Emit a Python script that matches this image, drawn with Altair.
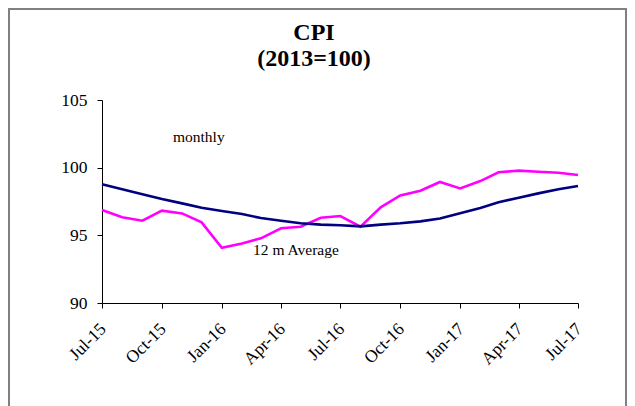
import altair as alt
import pandas as pd

months = ["2015-07-01", "2015-08-01", "2015-09-01", "2015-10-01", "2015-11-01", "2015-12-01",
          "2016-01-01", "2016-02-01", "2016-03-01", "2016-04-01", "2016-05-01", "2016-06-01",
          "2016-07-01", "2016-08-01", "2016-09-01", "2016-10-01", "2016-11-01", "2016-12-01",
          "2017-01-01", "2017-02-01", "2017-03-01", "2017-04-01", "2017-05-01", "2017-06-01",
          "2017-07-01"]
monthly = [96.87, 96.33, 96.08, 96.82, 96.62, 95.96, 94.08, 94.40, 94.78, 95.52, 95.64, 96.30,
           96.43, 95.64, 97.07, 97.95, 98.30, 98.94, 98.47, 99.01, 99.66, 99.78, 99.70, 99.63,
           99.46]
average_12m = [98.77, 98.40, 98.03, 97.68, 97.36, 97.04, 96.80, 96.57, 96.28, 96.08, 95.89, 95.79,
               95.74, 95.66, 95.79, 95.89, 96.03, 96.25, 96.63, 97.02, 97.44, 97.78, 98.10, 98.40,
               98.64]
series_names = ["monthly", "12 m Average"]
series_colors = ["#FF00FF", "#000080"]
title_lines = ["CPI", "(2013=100)"]
y_ticks = [90, 95, 100, 105]
x_ticks = ["2015-07-01", "2015-10-01", "2016-01-01", "2016-04-01", "2016-07-01",
           "2016-10-01", "2017-01-01", "2017-04-01", "2017-07-01"]
note_labels = ["monthly", "12 m Average"]
note_dates = ["2015-10-18", "2016-02-18"]
note_values = [101.9, 93.54]

FONT = "Liberation Serif, Times New Roman, Times, serif"

df = pd.DataFrame({
    "date": months * 2,
    "value": monthly + average_12m,
    "series": [series_names[0]] * len(months) + [series_names[1]] * len(months),
})
notes = pd.DataFrame({"date": note_dates, "value": note_values, "label": note_labels})

x_enc = alt.X("date:T", scale=alt.Scale(domain=[months[0], months[-1]]),
              axis=alt.Axis(values=x_ticks, format="%b-%y", labelAngle=-45, labelAlign="right",
                            labelBaseline="middle", tickSize=5, labelPadding=18, labelOffset=1,
                            title=None, labelOverlap=False, labelFlush=False,
                            labelFontSize=17.5))
y_enc = alt.Y("value:Q", scale=alt.Scale(domain=[90, 105], nice=False),
              axis=alt.Axis(values=y_ticks, tickSize=5, labelPadding=10, title=None,
                            labelFontSize=17.5))

lines = alt.Chart(df).mark_line(strokeWidth=2.6).encode(
    x=x_enc, y=y_enc,
    color=alt.Color("series:N", scale=alt.Scale(domain=series_names, range=series_colors),
                    legend=None),
)

text_notes = alt.Chart(notes).mark_text(align="left", baseline="alphabetic", font=FONT,
                                        fontSize=15.5, color="black").encode(
    x=x_enc, y=y_enc, text="label:N")

frame = alt.Chart(pd.DataFrame({"k": [0]})).mark_rect(fill=None, stroke="#808080",
                                                      strokeWidth=2).encode(
    x=alt.value(-93), x2=alt.value(524), y=alt.value(-91), y2=alt.value(330))

title = alt.Chart(pd.DataFrame({"k": [0]})).mark_text(
    text=title_lines, font=FONT, fontSize=24, fontWeight="bold", lineHeight=26,
    align="center", baseline="alphabetic", color="black").encode(
    x=alt.value(212), y=alt.value(-60))

chart = alt.layer(frame, lines, text_notes, title).properties(
    width=476, height=203,
    padding={"left": 94, "top": 92, "right": 49, "bottom": 105},
    autosize=alt.AutoSizeParams(type="none"),
    background="white",
).configure_view(stroke=None).configure_axis(
    grid=False, labelFont=FONT, labelColor="black", domainColor="black",
    tickColor="black", domainWidth=1, tickWidth=1,
)

chart.save("out.html", embed_options={"renderer": "svg", "actions": False})
